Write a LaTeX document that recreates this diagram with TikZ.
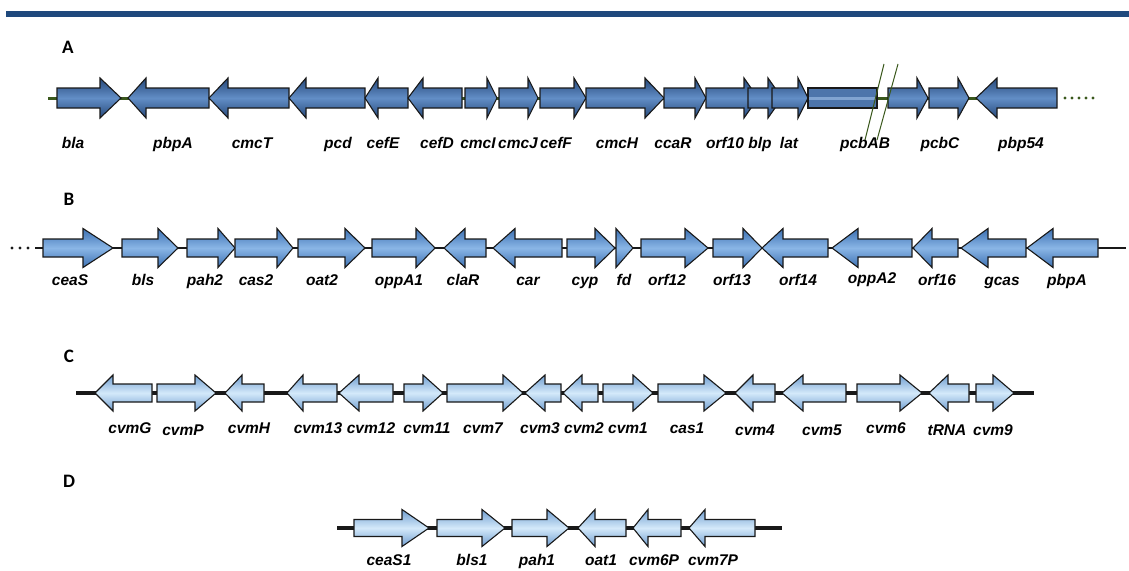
\documentclass[tikz,border=0pt]{standalone}
\usepackage{fontspec}
\setmainfont{Liberation Sans}
\newfontfamily\panelfont{Carlito}
\definecolor{barblue}{RGB}{31,73,125}
\definecolor{gAd}{RGB}{38,72,122}
\definecolor{gAl}{RGB}{98,142,198}
\definecolor{gBd}{RGB}{60,112,178}
\definecolor{gBl}{RGB}{138,182,230}
\definecolor{gCd}{RGB}{112,158,208}
\definecolor{gCl}{RGB}{212,233,250}
\definecolor{lineAcol}{RGB}{58,88,28}
\definecolor{linedark}{RGB}{25,25,25}
\tikzset{
  genelbl/.style={font=\fontsize{15.5}{18}\selectfont\bfseries\itshape, anchor=base, inner sep=0pt},
  panellbl/.style={font=\panelfont\fontsize{19}{22}\selectfont\bfseries, inner sep=0pt},
  geneA/.style={draw=black!90, line width=1.1pt, line join=miter, top color=gAd, bottom color=gAd, middle color=gAl},
  geneB/.style={draw=black!90, line width=1.1pt, line join=miter, top color=gBd, bottom color=gBd, middle color=gBl},
  geneC/.style={draw=black!90, line width=1.1pt, line join=miter, top color=gCd, bottom color=gCd, middle color=gCl},
  backA/.style={draw=lineAcol, line width=3pt},
  backdark/.style={draw=linedark, line width=3.2pt},
  breakline/.style={draw=lineAcol, line width=1pt},
}
% right-pointing gene: style, start, head base, tip
\newcommand\geneR[4]{\shadedraw[#1] (#2,{\ry-\bh}) -- (#3,{\ry-\bh}) -- (#3,{\ry-\hh}) -- (#4,\ry) -- (#3,{\ry+\hh}) -- (#3,{\ry+\bh}) -- (#2,{\ry+\bh}) -- cycle;}
% left-pointing gene: style, tip, head base, end
\newcommand\geneL[4]{\shadedraw[#1] (#2,\ry) -- (#3,{\ry-\hh}) -- (#3,{\ry-\bh}) -- (#4,{\ry-\bh}) -- (#4,{\ry+\bh}) -- (#3,{\ry+\bh}) -- (#3,{\ry+\hh}) -- cycle;}
\begin{document}
\begin{tikzpicture}[x=1pt,y=-1pt]
\useasboundingbox (0,0) rectangle (1129,570);
\fill[barblue] (6,11) rectangle (1129,17);

% ---------------- Panel A ----------------
\node[panellbl] (pA) at (68,47) {A};
\def\ry{98}\def\bh{10}\def\hh{20}
\draw[backA] (48,98) -- (1057,98);
\foreach \x in {1065,1072,1079,1086,1093} \fill[lineAcol] (\x,98) circle (1.6);
\geneR{geneA}{57}{100}{121}
\geneL{geneA}{128}{146}{209}
\geneL{geneA}{209}{228}{289}
\geneL{geneA}{289}{306}{365}
\geneL{geneA}{365}{378}{408}
\geneL{geneA}{408}{423}{462}
\geneR{geneA}{465}{487}{497}
\geneR{geneA}{499}{528}{538}
\geneR{geneA}{540}{574}{586}
\geneR{geneA}{586}{645}{664}
\geneR{geneA}{664}{695}{706}
\geneR{geneA}{706}{744}{758}
\geneR{geneA}{748}{768}{782}
\geneR{geneA}{772}{798}{808}
% pcbAB first part: headless box
\filldraw[fill=gAd!35!gAl, draw=black!90, line width=1.1pt] (808,88) rectangle (877,108);
\fill[gAl!80!white] (809,96.5) rectangle (876,100);
\geneR{geneA}{888}{917}{928}
\geneR{geneA}{929}{958}{969}
\geneL{geneA}{976}{997}{1057}
\draw[breakline] (884,64) -- (865,140);
\draw[breakline] (898,64) -- (877,140);
\node[genelbl] (a1) at (73,148) {bla};
\node[genelbl] (a2) at (173,148) {pbpA};
\node[genelbl] (a3) at (252,148) {cmcT};
\node[genelbl] (a4) at (338,148) {pcd};
\node[genelbl] (a5) at (383,148) {cefE};
\node[genelbl] (a6) at (437,148) {cefD};
\node[genelbl] (a7) at (478,148) {cmcI};
\node[genelbl] (a8) at (518,148) {cmcJ};
\node[genelbl] (a9) at (556,148) {cefF};
\node[genelbl] (a10) at (617,148) {cmcH};
\node[genelbl] (a11) at (673,148) {ccaR};
\node[genelbl] (a12) at (725,148) {orf10};
\node[genelbl] (a13) at (760,148) {blp};
\node[genelbl] (a14) at (789,148) {lat};
\node[genelbl] (a15) at (865,148) {pcbAB};
\node[genelbl] (a16) at (940,148) {pcbC};
\node[genelbl] (a17) at (1021,148) {pbp54};

% ---------------- Panel B ----------------
\node[panellbl] (pB) at (69,199) {B};
\def\ry{248}\def\bh{9}\def\hh{19.5}
\draw[backdark, line width=2.4pt] (35,248) -- (1126,248);
\foreach \x in {12,20,28} \fill[linedark] (\x,248) circle (1.6);
\geneR{geneB}{43}{83}{113}
\geneR{geneB}{122}{158}{178}
\geneR{geneB}{187}{218}{235}
\geneR{geneB}{235}{277}{293}
\geneR{geneB}{298}{345}{365}
\geneR{geneB}{372}{416}{435}
\geneL{geneB}{444}{465}{486}
\geneL{geneB}{493}{515}{562}
\geneR{geneB}{567}{595}{615}
\geneR{geneB}{616}{616}{633}
\geneR{geneB}{641}{685}{708}
\geneR{geneB}{713}{743}{762}
\geneL{geneB}{762}{783}{828}
\geneL{geneB}{832}{858}{912}
\geneL{geneB}{913}{932}{958}
\geneL{geneB}{961}{988}{1026}
\geneL{geneB}{1027}{1053}{1098}
\node[genelbl] (b1) at (70,285) {ceaS};
\node[genelbl] (b2) at (143,285) {bls};
\node[genelbl] (b3) at (205,285) {pah2};
\node[genelbl] (b4) at (256,285) {cas2};
\node[genelbl] (b5) at (322,285) {oat2};
\node[genelbl] (b6) at (399,285) {oppA1};
\node[genelbl] (b7) at (463,285) {claR};
\node[genelbl] (b8) at (528,285) {car};
\node[genelbl] (b9) at (585,285) {cyp};
\node[genelbl] (b10) at (624,285) {fd};
\node[genelbl] (b11) at (667,285) {orf12};
\node[genelbl] (b12) at (732,285) {orf13};
\node[genelbl] (b13) at (798,285) {orf14};
\node[genelbl] (b14) at (872,283) {oppA2};
\node[genelbl] (b15) at (937,285) {orf16};
\node[genelbl] (b16) at (1002,285) {gcas};
\node[genelbl] (b17) at (1067,285) {pbpA};

% ---------------- Panel C ----------------
\node[panellbl] (pC) at (69,356) {C};
\def\ry{393}\def\bh{9}\def\hh{18}
\draw[backdark] (76,393) -- (1034,393);
\geneL{geneC}{95}{113}{152}
\geneR{geneC}{157}{195}{216}
\geneL{geneC}{225}{242}{264}
\geneL{geneC}{287}{303}{337}
\geneL{geneC}{339}{359}{393}
\geneR{geneC}{404}{423}{443}
\geneR{geneC}{447}{503}{523}
\geneL{geneC}{525}{545}{561}
\geneL{geneC}{563}{582}{598}
\geneR{geneC}{603}{633}{653}
\geneR{geneC}{658}{704}{726}
\geneL{geneC}{735}{753}{775}
\geneL{geneC}{782}{803}{846}
\geneR{geneC}{857}{900}{922}
\geneL{geneC}{929}{948}{969}
\geneR{geneC}{976}{993}{1014}
\node[genelbl] (c1) at (130,433) {cvmG};
\node[genelbl] (c2) at (183,435) {cvmP};
\node[genelbl] (c3) at (249,433) {cvmH};
\node[genelbl] (c4) at (318,433) {cvm13};
\node[genelbl] (c5) at (371,433) {cvm12};
\node[genelbl] (c6) at (427,433) {cvm11};
\node[genelbl] (c7) at (483,433) {cvm7};
\node[genelbl] (c8) at (540,433) {cvm3};
\node[genelbl] (c9) at (584,433) {cvm2};
\node[genelbl] (c10) at (628,433) {cvm1};
\node[genelbl] (c11) at (687,433) {cas1};
\node[genelbl] (c12) at (755,435) {cvm4};
\node[genelbl] (c13) at (822,435) {cvm5};
\node[genelbl] (c14) at (886,433) {cvm6};
\node[genelbl] (c15) at (947,435) {tRNA};
\node[genelbl] (c16) at (993,435) {cvm9};

% ---------------- Panel D ----------------
\node[panellbl] (pD) at (69,481) {D};
\def\ry{528}\def\bh{8.5}\def\hh{18.5}
\draw[backdark] (337,528) -- (782,528);
\geneR{geneC}{354}{402}{429}
\geneR{geneC}{437}{482}{505}
\geneR{geneC}{512}{547}{569}
\geneL{geneC}{578}{595}{626}
\geneL{geneC}{633}{648}{681}
\geneL{geneC}{689}{705}{755}
\node[genelbl] (d1) at (389,565) {ceaS1};
\node[genelbl] (d2) at (472,565) {bls1};
\node[genelbl] (d3) at (537,565) {pah1};
\node[genelbl] (d4) at (601,565) {oat1};
\node[genelbl] (d5) at (654,565) {cvm6P};
\node[genelbl] (d6) at (713,565) {cvm7P};
\end{tikzpicture}
\end{document}
